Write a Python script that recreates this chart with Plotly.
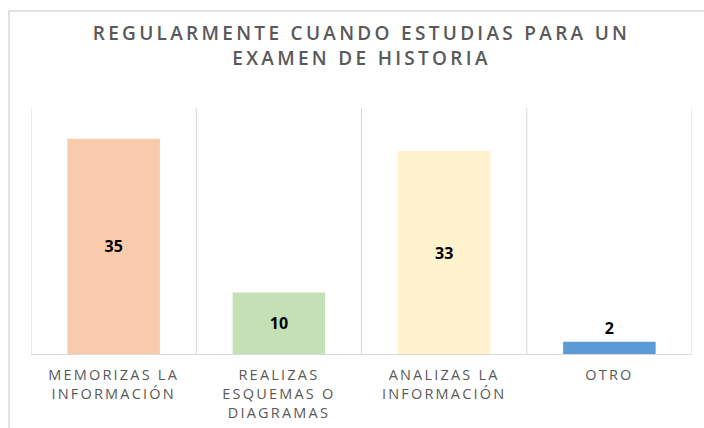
import plotly.graph_objects as go

categories = ["MEMORIZAS LA<br>INFORMACIÓN", "REALIZAS<br>ESQUEMAS O<br>DIAGRAMAS", "ANALIZAS LA<br>INFORMACIÓN", "OTRO"]
values = [35, 10, 33, 2]
colors = ["#F8CBAD", "#C5E0B4", "#FFF2CC", "#5B9BD5"]
title_text = "REGULARMENTE CUANDO ESTUDIAS PARA UN<br>EXAMEN DE HISTORIA"

fig = go.Figure()
fig.add_trace(go.Bar(
    x=list(range(len(categories))),
    y=values,
    marker=dict(color=colors, line=dict(width=0)),
    text=[str(v) for v in values],
    textposition="auto",
    insidetextanchor="middle",
    textangle=0,
    constraintext="none",
    textfont=dict(family="Open Sans", size=16, color="#000000", weight="bold"),
    cliponaxis=False,
    width=0.56,
))

shapes = []
for i in range(len(categories) + 1):
    shapes.append(dict(type="line", xref="x", yref="paper", x0=i - 0.5, x1=i - 0.5, y0=0, y1=1,
                       line=dict(color="#D9D9D9", width=1), layer="below"))
# chart frame
shapes.append(dict(type="rect", xref="paper", yref="paper", x0=-0.0333, x1=1.2, y0=-0.5, y1=1.394,
                   line=dict(color="#D9D9D9", width=1.5), layer="below"))

fig.update_layout(
    width=704, height=428,
    margin=dict(l=31, r=12, t=108, b=74),
    paper_bgcolor="white", plot_bgcolor="white",
    showlegend=False,
    title=dict(text=title_text, x=0.5, xanchor="center", xref="paper", y=0.907, yanchor="top",
               font=dict(family="Open Sans", size=19, color="#595959", weight=600)),
    xaxis=dict(tickmode="array", tickvals=list(range(len(categories))), ticktext=categories,
               range=[-0.5, len(categories) - 0.5], showgrid=False, showline=True,
               linecolor="#D9D9D9", linewidth=1, ticks="", ticklabelstandoff=8, automargin=False,
               tickfont=dict(family="Open Sans", size=14.5, color="#595959")),
    yaxis=dict(range=[0, 40], showgrid=False, showticklabels=False, zeroline=False, showline=False,
               automargin=False),
    shapes=shapes,
)

post = """
document.body.style.margin='0';
var gd=document.getElementById('{plot_id}');
function fixSpacing(){
  gd.querySelectorAll('.gtitle').forEach(function(e){e.style.letterSpacing='3.3px';});
  gd.querySelectorAll('.xtick text').forEach(function(e){e.style.letterSpacing='2.2px';});
}
fixSpacing();
gd.on('plotly_afterplot', fixSpacing);
"""
fig.write_html("out.html", post_script=post, config={"displayModeBar": False})
